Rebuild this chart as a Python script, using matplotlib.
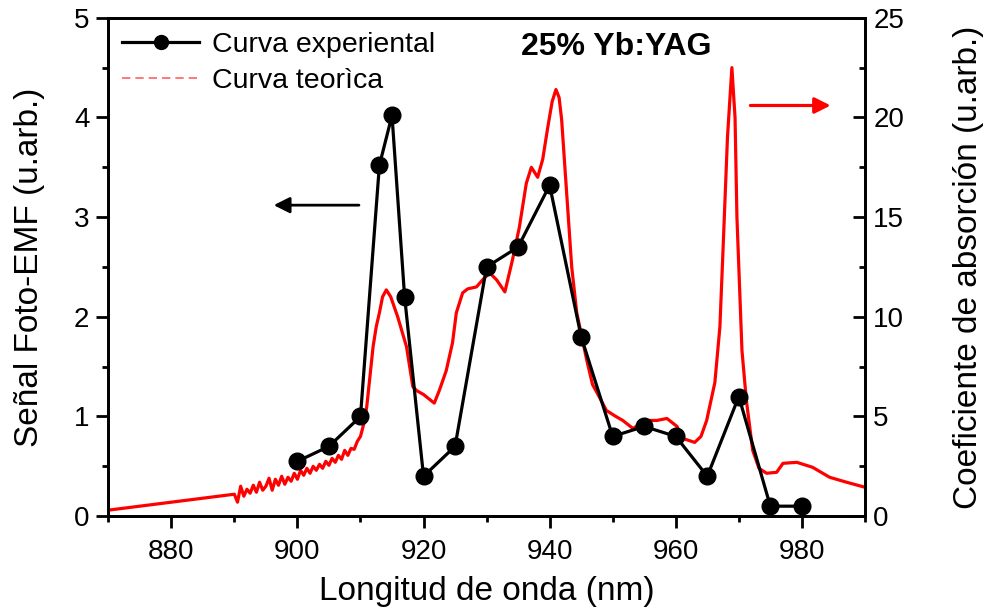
import matplotlib.pyplot as plt
from matplotlib.lines import Line2D
from matplotlib.ticker import MultipleLocator

plt.rcParams['font.family'] = ['Liberation Sans', 'DejaVu Sans']

# experimental points (left axis)
x_exp = [900, 905, 910, 913, 915, 917, 920, 925, 930, 935, 940, 945, 950,
         955, 960, 965, 970, 975, 980]
y_exp = [0.55, 0.7, 1.0, 3.52, 4.02, 2.2, 0.4, 0.7, 2.5, 2.7, 3.32, 1.8, 0.8,
         0.9, 0.8, 0.4, 1.2, 0.1, 0.1]

# absorption curve (right axis)
x_teo = [870, 875, 880, 885,
         890.0, 890.5, 891.0, 891.5, 892.0, 892.5, 893.0, 893.5, 894.0, 894.5,
         895.0, 895.5, 896.0, 896.5, 897.0, 897.5, 898.0, 898.5, 899.0, 899.5,
         900.0, 900.5, 901.0, 901.5, 902.0, 902.5, 903.0, 903.5, 904.0, 904.5,
         905.0, 905.5, 906.0, 906.5, 907.0, 907.5, 908.0, 908.5, 909.0, 909.5,
         910, 910.5, 911, 911.5, 912, 912.5, 913, 913.5, 914.1, 914.8, 915.9,
         917.3, 918.3, 918.9, 920, 921.7, 922.5, 923.6, 924.6, 925.2, 926.2,
         927, 928.4, 929.5, 930.5, 931.6, 932.9, 934.1, 935.2, 936.3, 937.1,
         938.1, 938.9, 939.7, 940.4, 941.0, 941.5, 941.9, 942.7, 943.5, 944.3,
         945.9, 946.8, 947.5, 949.0, 950.5, 951.6, 953.2, 954.3, 955.4, 957,
         958.6, 960.2, 961.1, 963.0, 964.0, 964.9, 966.2, 967.0, 967.5, 968.2,
         968.9, 969.4, 969.7, 970.5, 971.2, 972.2, 973.2, 974.4, 976, 977,
         979.2, 981.7, 984.4, 987.1, 990]
y_teo = [0.3, 0.5, 0.7, 0.9,
         1.1, 0.7, 1.5, 1.0, 1.35, 1.15, 1.55, 1.2, 1.7, 1.3,
         1.5, 1.9, 1.3, 1.85, 1.55, 2.0, 1.6, 1.95, 1.75, 2.15,
         1.85, 2.3, 2.05, 2.4, 2.15, 2.5, 2.3, 2.6, 2.4, 2.75,
         2.55, 2.9, 2.7, 3.05, 2.85, 3.3, 3.05, 3.4, 3.35, 3.75,
         4.0, 4.6, 5.5, 7.0, 8.5, 9.5, 10.2, 11.0, 11.35, 11.0, 10.0,
         8.5, 6.5, 6.3, 6.1, 5.67, 6.3, 7.3, 8.7, 10.2, 11.2,
         11.4, 11.5, 11.9, 12.2, 11.85, 11.25, 12.85, 14.5, 16.7, 17.5,
         17.0, 17.9, 19.5, 20.8, 21.4, 21.0, 19.9, 16.2, 12.5, 10.2,
         7.8, 6.6, 6.2, 5.3, 5.0, 4.8, 4.4, 4.6, 4.8, 4.8,
         4.9, 4.5, 3.9, 3.7, 4.0, 4.8, 6.7, 9.5, 13.4, 19.0,
         22.5, 20.0, 15.0, 8.3, 5.8, 3.3, 2.4, 2.15, 2.2, 2.65,
         2.7, 2.45, 1.95, 1.7, 1.45]

fig = plt.figure(figsize=(9.84, 6.13), dpi=100)
ax1 = fig.add_axes([0.11, 0.158, 0.769, 0.813])
ax2 = ax1.twinx()
ax1.set_zorder(ax2.get_zorder() + 1)
ax1.patch.set_visible(False)

ax2.plot(x_teo, y_teo, color='red', lw=2.3)
ax1.plot(x_exp, y_exp, 'k-', marker='o', ms=12, lw=2.3)

ax1.set_xlim(870, 990)
ax1.set_ylim(0, 5)
ax2.set_ylim(0, 25)

ax1.xaxis.set_major_locator(MultipleLocator(20))
ax1.xaxis.set_minor_locator(MultipleLocator(10))
ax1.yaxis.set_major_locator(MultipleLocator(1))
ax1.yaxis.set_minor_locator(MultipleLocator(0.5))
ax2.yaxis.set_major_locator(MultipleLocator(5))
ax2.yaxis.set_minor_locator(MultipleLocator(2.5))

ax1.tick_params(which='major', length=8.5, width=2, labelsize=20, direction='out', pad=5)
ax1.tick_params(axis='x', which='major', pad=8)
ax1.tick_params(which='minor', length=4, width=2, direction='out')
ax2.tick_params(which='major', length=8.5, width=2, labelsize=20, direction='in', pad=6)
ax2.tick_params(which='minor', length=4.5, width=2, direction='in')
for ax in (ax1, ax2):
    for sp in ax.spines.values():
        sp.set_linewidth(2)

ax1.set_xlabel('Longitud de onda (nm)', fontsize=24, labelpad=8)
ax1.set_ylabel('Señal Foto-EMF (u.arb.)', fontsize=24, labelpad=21)
ax2.set_ylabel('Coeficiente de absorción (u.arb.)', fontsize=24, labelpad=35)

ax1.annotate('', xy=(895.8, 3.12), xytext=(910.2, 3.12),
             arrowprops=dict(arrowstyle='-|>', color='k', lw=2, mutation_scale=24))
ax2.annotate('', xy=(985.0, 20.6), xytext=(971.4, 20.6),
             arrowprops=dict(arrowstyle='-|>', color='red', lw=2.3, mutation_scale=24))

ax1.text(950.6, 4.71, '25% Yb:YAG', fontsize=23, fontweight='bold',
         ha='center', va='center')

handles = [Line2D([], [], color='k', marker='o', ms=10, lw=2.3),
           Line2D([], [], color='#ff6060', ls=(0, (5, 3)), lw=1.2)]
ax1.legend(handles, ['Curva experiental', 'Curva teorìca'], loc='upper left',
           frameon=False, fontsize=20.5, handlelength=2.7, handletextpad=0.45,
           borderaxespad=0, borderpad=0.5, bbox_to_anchor=(0.0, 1.0),
           labelspacing=0.35)

fig.savefig('out.png', dpi=100)
